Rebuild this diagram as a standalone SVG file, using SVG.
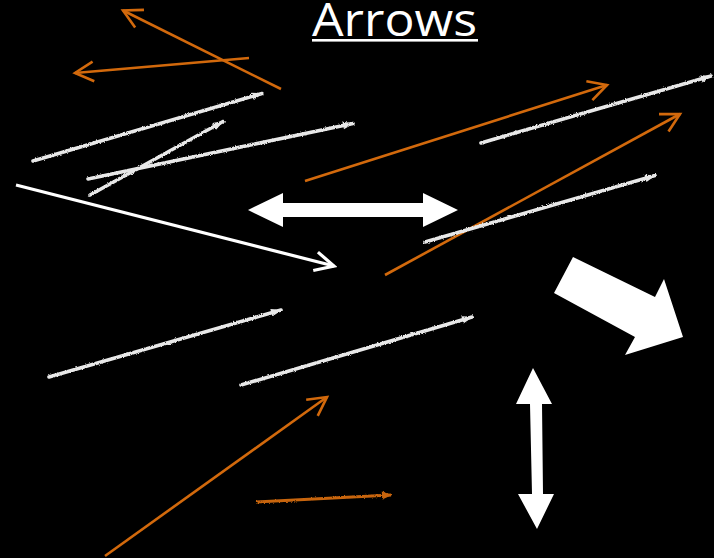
<svg xmlns="http://www.w3.org/2000/svg" width="714" height="558" viewBox="0 0 714 558">
<style>
.or{stroke:#D2690C;stroke-width:2.6;fill:none;stroke-linecap:butt}
.wl{stroke:#FFFFFF;stroke-width:3.2;fill:none}
.ch{stroke:#E8E8E8;stroke-width:3.6;fill:none;stroke-linecap:round}
.blk{fill:#FFFFFF}
.title{font-family:"Open Sans","Liberation Sans",sans-serif;font-size:46px;fill:#FFFFFF}
</style>
<defs>
<filter id="rough" x="-5%" y="-50%" width="110%" height="200%">
<feTurbulence type="fractalNoise" baseFrequency="0.9" numOctaves="2" seed="3" result="n"/>
<feDisplacementMap in="SourceGraphic" in2="n" scale="2.5" xChannelSelector="R" yChannelSelector="G"/>
</filter>
<marker id="orHead" viewBox="-22 -13 25 26" refX="0" refY="0" markerWidth="25" markerHeight="26" markerUnits="userSpaceOnUse" orient="auto">
<path d="M-18.5,-9.9 L0,0 L-18.5,9.9" fill="none" stroke="#D2690C" stroke-width="2.6" stroke-linejoin="miter"/>
</marker>
<marker id="wHead" viewBox="-22 -13 25 26" refX="0" refY="0" markerWidth="25" markerHeight="26" markerUnits="userSpaceOnUse" orient="auto">
<path d="M-19,-9.5 L0,0 L-19,9.5" fill="none" stroke="#FFFFFF" stroke-width="3.2"/>
</marker>
<marker id="chHead" viewBox="-12 -6 14 12" refX="0" refY="0" markerWidth="14" markerHeight="12" markerUnits="userSpaceOnUse" orient="auto">
<path d="M-10,-3.8 L1,0 L-10,3.8 Z" fill="#E8E8E8"/>
</marker>
<marker id="oskHead" viewBox="-12 -6 14 12" refX="0" refY="0" markerWidth="14" markerHeight="12" markerUnits="userSpaceOnUse" orient="auto">
<path d="M-9,-4 L1,0 L-9,4 Z" fill="#C8650E"/>
</marker>
</defs>
<rect x="0" y="0" width="714" height="558" fill="#000000"/>

<g id="title">
<text class="title" x="312" y="35.5" textLength="165" lengthAdjust="spacingAndGlyphs">Arrows</text>
<rect x="312" y="39" width="166" height="2.6" fill="#FFFFFF"/>
</g>

<g id="connectors">
<line class="or" x1="281" y1="89" x2="123" y2="10.5" marker-end="url(#orHead)"/>
<line class="or" x1="249" y1="58" x2="75" y2="73" marker-end="url(#orHead)"/>
<line class="or" x1="305" y1="181" x2="607" y2="85" marker-end="url(#orHead)"/>
<line class="or" x1="385" y1="275" x2="680" y2="114" marker-end="url(#orHead)"/>
<line class="or" x1="105" y1="556" x2="327" y2="397" marker-end="url(#orHead)"/>
<line x1="256" y1="502" x2="391" y2="495" stroke="#C8650E" stroke-width="2.8" filter="url(#rough)" marker-end="url(#oskHead)"/>

<line class="wl" x1="16" y1="185" x2="334" y2="266" marker-end="url(#wHead)"/>

<g filter="url(#rough)">
<line class="ch" x1="33" y1="161" x2="262" y2="93.5" marker-end="url(#chHead)"/>
<line class="ch" x1="90" y1="195" x2="223" y2="121.5" marker-end="url(#chHead)"/>
<line class="ch" x1="88" y1="179" x2="353" y2="123.5" marker-end="url(#chHead)"/>
<line class="ch" x1="481" y1="143" x2="711" y2="76" marker-end="url(#chHead)"/>
<line class="ch" x1="425" y1="242" x2="655" y2="175.5" marker-end="url(#chHead)"/>
<line class="ch" x1="49" y1="377" x2="281" y2="310" marker-end="url(#chHead)"/>
<line class="ch" x1="241" y1="385" x2="472" y2="317" marker-end="url(#chHead)"/>
</g>
</g>

<g id="block-double-horizontal">
<polygon class="blk" points="248,210 283,193 283,203 423,203 423,193 458,210 423,227 423,217 283,217 283,227"/>
</g>

<g id="block-arrow-diagonal">
<polygon class="blk" points="573,257 655,297 664,279 683,337 625,355 635,337 554,293"/>
</g>

<g id="block-double-vertical">
<polygon class="blk" points="533,368 552,404 542,404 543,494 554,494 537,529 518,494 532,494 530,404 516,404"/>
</g>
</svg>
